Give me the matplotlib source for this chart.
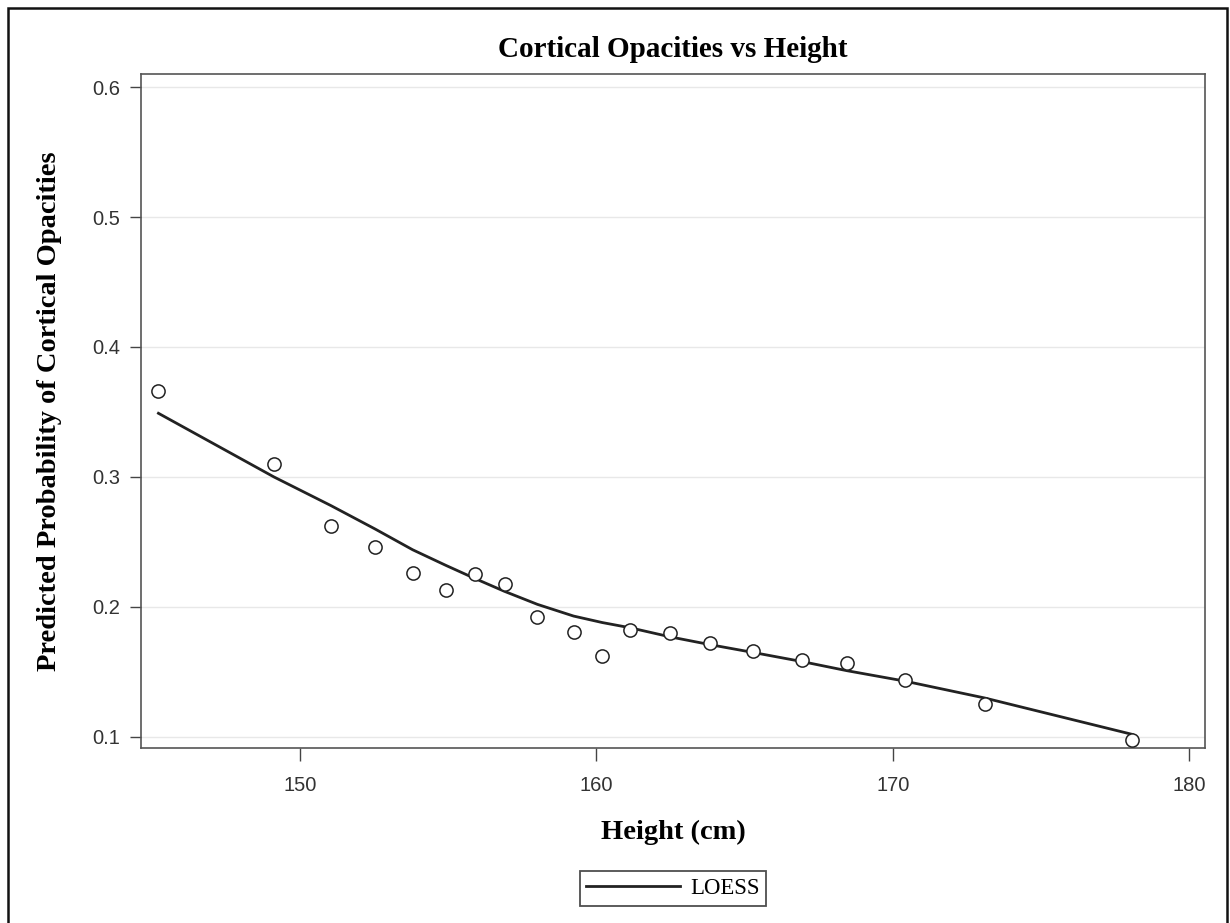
import numpy as np
import matplotlib.pyplot as plt
from matplotlib.patches import Rectangle

# data
height = [145.22, 149.12, 151.04, 152.53, 153.80, 154.92, 155.89, 156.90, 158.01, 159.23,
          160.20, 161.14, 162.49, 163.84, 165.29, 166.94, 168.45, 170.40, 173.10, 178.08]
prob = [0.366, 0.310, 0.262, 0.246, 0.226, 0.213, 0.225, 0.218, 0.192, 0.181,
        0.162, 0.182, 0.180, 0.172, 0.166, 0.159, 0.157, 0.144, 0.125, 0.098]
loess = [0.349, 0.300, 0.278, 0.260, 0.244, 0.232, 0.222, 0.212, 0.202, 0.193,
         0.188, 0.184, 0.177, 0.171, 0.165, 0.158, 0.151, 0.143, 0.130, 0.102]
xticks = [150, 160, 170, 180]
yticks = [0.1, 0.2, 0.3, 0.4, 0.5, 0.6]

serif = 'Liberation Serif'
sans = 'Liberation Sans'

fig = plt.figure(figsize=(12.3, 9.23), dpi=100)
ax = fig.add_axes([0.1146, 0.1896, 0.8651, 0.7302])

ax.plot(height, loess, '-', color='#222222', lw=2.0, zorder=3, label='LOESS')
ax.plot(height, prob, 'o', mfc='white', mec='#222222', mew=1.1, ms=9.5, zorder=4)

ax.set_xlim(144.63, 180.54)
ax.set_ylim(0.0915, 0.610)
ax.set_xticks(xticks)
ax.set_yticks(yticks)
ax.set_yticklabels(['%.1f' % v for v in yticks])
for lab in ax.get_xticklabels() + ax.get_yticklabels():
    lab.set_family(sans)
    lab.set_fontsize(14.5)
    lab.set_color('#333333')
ax.tick_params(axis='x', direction='out', length=9, width=1, color='#444444', pad=11)
ax.tick_params(axis='y', direction='out', length=8, width=1, color='#444444', pad=7)
ax.yaxis.grid(True, color='#e8e8e8', lw=1)
ax.set_axisbelow(True)
for s in ax.spines.values():
    s.set_color('#555555')
    s.set_linewidth(1.2)

ax.set_title('Cortical Opacities vs Height', fontfamily=serif, fontweight='bold',
             fontsize=21, pad=12)
ax.set_xlabel('Height (cm)', fontfamily=serif, fontweight='bold', fontsize=20.5, labelpad=18)
ax.set_ylabel('Predicted Probability of Cortical Opacities', fontfamily=serif,
              fontweight='bold', fontsize=20.5, labelpad=22)

leg = ax.legend(loc='upper center', bbox_to_anchor=(0.5, -0.183), frameon=True,
                fancybox=False, prop={'family': serif, 'size': 16.4},
                handlelength=4.1, borderpad=0.3, handletextpad=0.45, borderaxespad=0)
leg.get_frame().set_edgecolor('#222222')
leg.get_frame().set_linewidth(1.3)

# outer frame round the whole graph
fig.patches.append(Rectangle((8 / 1230, -0.02), (1227 - 8) / 1230, 1 - 8 / 923 + 0.02,
                             transform=fig.transFigure, fill=False,
                             edgecolor='#111111', lw=1.8))

fig.savefig('out.png', dpi=100)
